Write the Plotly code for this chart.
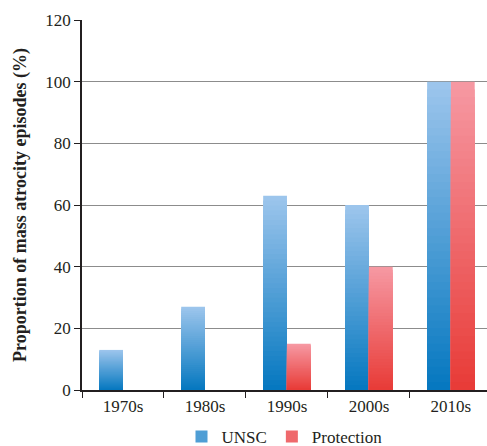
import plotly.graph_objects as go

categories = ["1970s", "1980s", "1990s", "2000s", "2010s"]
unsc = [13, 27, 63, 60, 100]
protection = [0, 0, 15, 40, 100]
y_ticks = [0, 20, 40, 60, 80, 100, 120]

series = [
    ("UNSC", unsc, (156, 197, 236), (6, 120, 192), -0.29),
    ("Protection", protection, (246, 152, 162), (232, 60, 56), 0.0),
]

FONT = "Liberation Serif"
N = 40
fig = go.Figure()
for name, vals, top, bot, off in series:
    for k in range(N):
        t = k / (N - 1)
        c = tuple(round(top[i] + (bot[i] - top[i]) * t) for i in range(3))
        frac = 1 - k / N
        fig.add_trace(go.Bar(
            x=categories, y=[v * frac for v in vals],
            name=name, legendgroup=name,
            showlegend=(k == N // 2),
            marker=dict(color="rgb(%d,%d,%d)" % c, line=dict(width=0)),
            width=0.29, offset=off, hoverinfo="skip",
        ))

fig.update_layout(
    width=487, height=446,
    margin=dict(l=82, r=0, t=20, b=56, autoexpand=False),
    barmode="overlay",
    plot_bgcolor="white", paper_bgcolor="white",
    font=dict(family=FONT, size=17, color="#231f20"),
    showlegend=True,
    legend=dict(orientation="h", x=0.5, xanchor="center", y=-0.127, yanchor="middle",
                font=dict(family=FONT, size=17), tracegroupgap=0),
    xaxis=dict(
        type="category", range=[-0.5, 4.44], automargin=False,
        showline=True, linecolor="#231f20", linewidth=1.5,
        ticks="outside", tickson="boundaries", ticklen=6, tickcolor="#231f20",
        tickfont=dict(family=FONT, size=17, color="#231f20"),
        showgrid=False,
    ),
    yaxis=dict(
        range=[0, 120], tickvals=y_ticks, automargin=False,
        showline=True, linecolor="#231f20", linewidth=1.5,
        ticks="outside", ticklen=6, tickcolor="#231f20",
        tickfont=dict(family=FONT, size=17, color="#231f20"),
        showgrid=True, gridcolor="#8c8c8c", gridwidth=1.2,
        zeroline=False,
        title=dict(text="<b>Proportion of mass atrocity episodes (%)</b>",
                   font=dict(family=FONT, size=18, color="#231f20"), standoff=14),
    ),
)

fig.write_html("out.html", config={"displayModeBar": False},
               post_script="document.body.style.margin='0';")
